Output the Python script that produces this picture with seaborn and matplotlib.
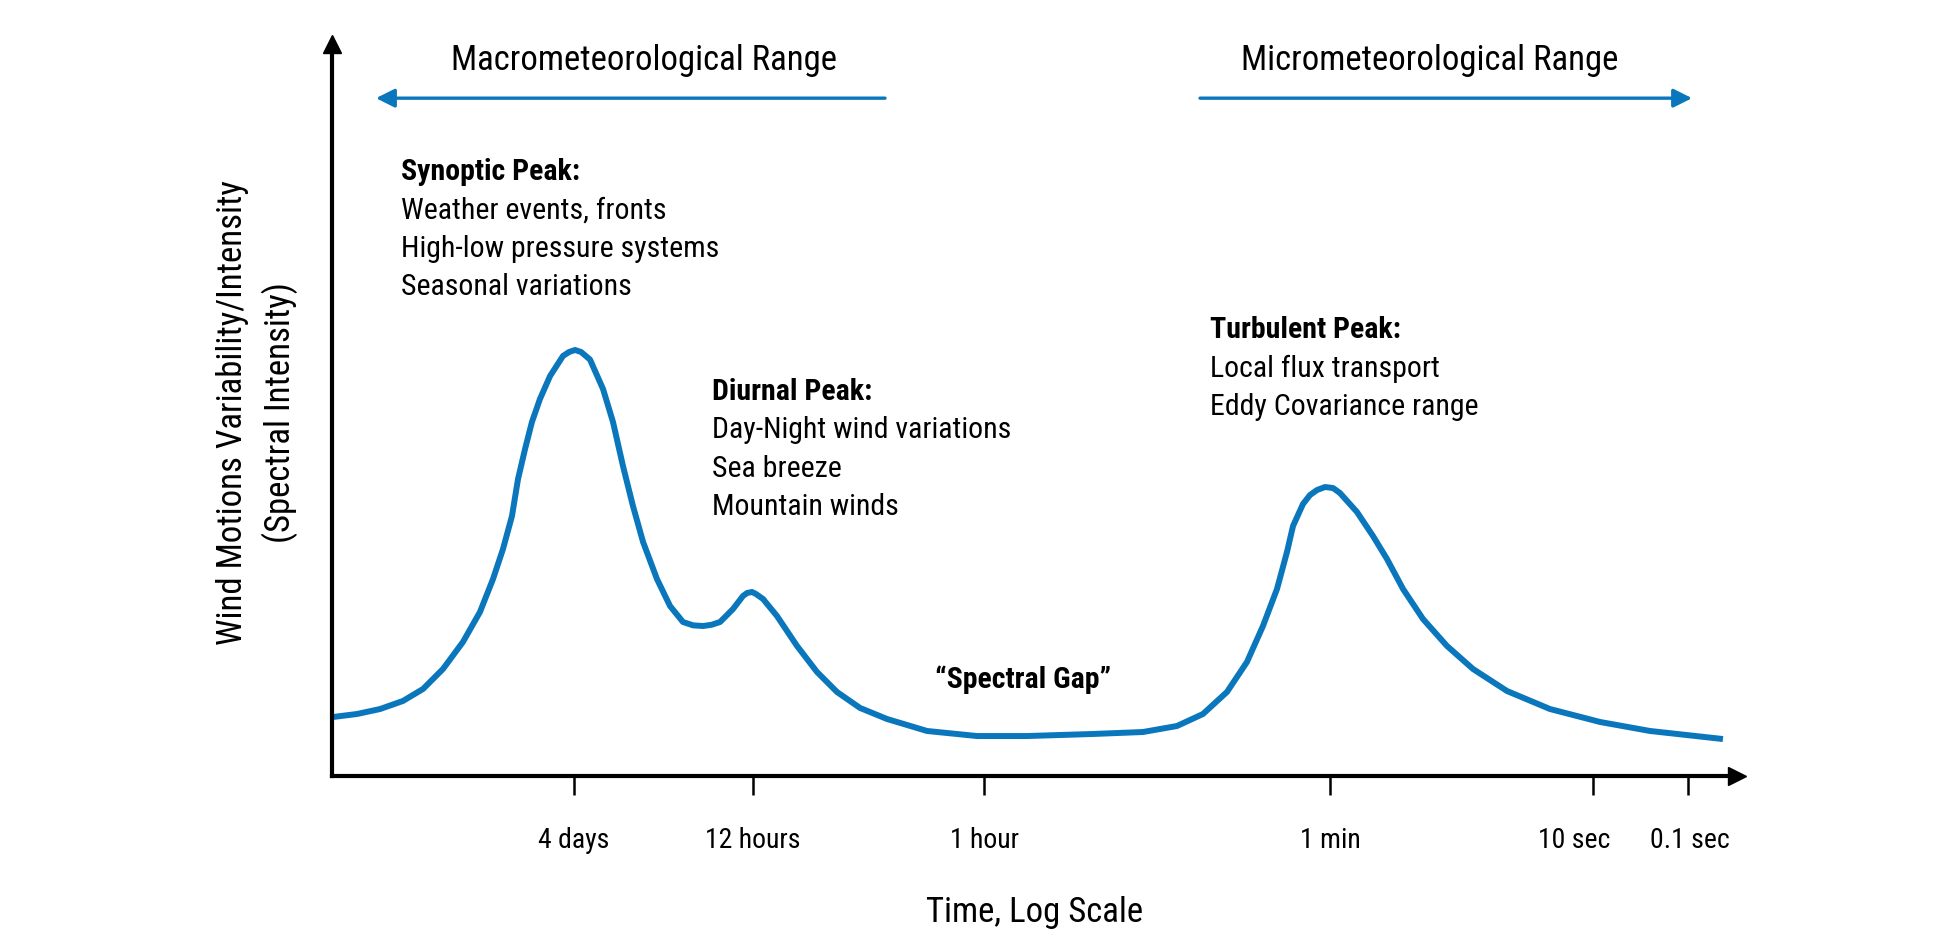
import matplotlib
matplotlib.use("Agg")
import matplotlib.pyplot as plt
from matplotlib import font_manager
import seaborn as sns

sns.set_theme(style='white')

# pick a narrow face if one is installed
installed = {f.name for f in font_manager.fontManager.ttflist}
narrow = [n for n in ['Roboto Condensed', 'Liberation Sans Narrow', 'Open Sans Condensed', 'Arial Narrow']
          if n in installed]
if narrow:
    plt.rcParams['font.family'] = [narrow[0], 'DejaVu Sans']
    fs = 1.0
else:
    plt.rcParams['font.family'] = ['Roboto', 'DejaVu Sans']
    fs = 0.86
for k in ['text.color', 'axes.labelcolor', 'xtick.color', 'ytick.color']:
    plt.rcParams[k] = 'black'

# curve (position along time axis 0-100, intensity 0-100)
pos = [0.07, 1.78, 3.42, 5.05, 6.48, 7.90, 9.32, 10.53, 11.46, 12.17, 12.81, 13.24, 13.74, 14.23,
       14.80, 15.52, 16.44, 16.87, 17.30, 17.73, 18.15, 18.36, 19.29, 20.00, 20.71, 21.42, 22.14,
       23.13, 24.06, 24.98, 25.70, 26.41, 27.02, 27.62, 28.54, 29.25, 29.54, 29.89, 30.18, 30.68,
       31.67, 33.10, 34.52, 35.94, 37.58, 39.50, 42.35, 45.91, 49.47, 54.16, 57.72, 60.14, 61.99,
       63.70, 65.12, 66.26, 67.26, 67.97, 68.40, 69.11, 69.61, 70.11, 70.68, 71.25, 71.74, 72.95,
       74.09, 75.09, 76.23, 77.65, 79.36, 81.21, 83.63, 86.69, 90.25, 93.81, 99.00]
intensity = [8.06, 8.47, 9.15, 10.25, 11.89, 14.62, 18.31, 22.40, 26.91, 31.01, 35.52, 40.57, 44.67, 48.36,
             51.50, 54.64, 57.38, 57.92, 58.20, 57.92, 57.24, 56.90, 52.87, 48.36, 42.35, 36.89, 31.97,
             26.91, 23.22, 21.04, 20.58, 20.49, 20.66, 21.04, 22.81, 24.59, 25.00, 25.14, 24.86, 24.18,
             21.86, 17.76, 14.21, 11.48, 9.30, 7.79, 6.15, 5.46, 5.46, 5.74, 6.01, 6.83, 8.47,
             11.48, 15.57, 20.49, 25.55, 30.60, 34.15, 37.16, 38.39, 39.07, 39.48, 39.34, 38.66, 36.07,
             32.79, 29.64, 25.55, 21.45, 17.76, 14.62, 11.61, 9.15, 7.38, 6.15, 5.05]

tick_pos = [17.22, 29.96, 46.41, 71.03, 89.75, 96.51]
label_pos = [17.22, 29.96, 46.41, 71.03, 88.4, 96.65]
tick_labels = ['4 days', '12 hours', '1 hour', '1 min', '10 sec', '0.1 sec']

synoptic_lines = ['Synoptic Peak:', 'Weather events, fronts', 'High-low pressure systems', 'Seasonal variations']
diurnal_lines = ['Diurnal Peak:', 'Day-Night wind variations', 'Sea breeze', 'Mountain winds']
turbulent_lines = ['Turbulent Peak:', 'Local flux transport', 'Eddy Covariance range']

blue = '#0a77bd'

fig = plt.figure(figsize=(19.44, 9.37), dpi=100)
ax = fig.add_axes([332/1944, 1 - 777/937, (1737 - 332)/1944, (777 - 45)/937])

sns.lineplot(x=pos, y=intensity, ax=ax, color=blue, lw=4.3, solid_joinstyle='round', solid_capstyle='butt')

ax.set_xlim(0, 100)
ax.set_ylim(0, 100)
for s in ['top', 'right']:
    ax.spines[s].set_visible(False)
for s in ['left', 'bottom']:
    ax.spines[s].set_linewidth(3)
    ax.spines[s].set_color('black')
ax.plot(1, 0, '>', color='black', ms=13, transform=ax.transAxes, clip_on=False)
ax.plot(0, 1, '^', color='black', ms=13, transform=ax.transAxes, clip_on=False)

ax.set_yticks([])
# tick marks on the major ticks, the labels sit on minor ticks (last two are offset in the original)
ax.xaxis.remove_overlapping_locs = False
ax.set_xticks(tick_pos)
ax.set_xticklabels([''] * len(tick_pos))
ax.set_xticks(label_pos, minor=True)
ax.set_xticklabels(tick_labels, minor=True, fontsize=20*fs)
ax.tick_params(axis='x', which='major', direction='out', length=14, width=1.8, color='black', bottom=True)
ax.tick_params(axis='x', which='minor', length=0, pad=36, bottom=True)
ax.set_xlabel('Time, Log Scale', fontsize=25*fs, labelpad=30)

fig.text(257/1944, 1 - 413/937, 'Wind Motions Variability/Intensity\n(Spectral Intensity)',
         rotation=90, ha='center', va='center', multialignment='center', fontsize=25*fs, linespacing=1.45/fs)

# range arrows at the top
ax.annotate('', xy=(3.13, 92.6), xytext=(39.36, 92.6), annotation_clip=False,
            arrowprops=dict(arrowstyle='-|>', color=blue, lw=2.4, mutation_scale=28, shrinkA=0, shrinkB=0))
ax.annotate('', xy=(96.8, 92.6), xytext=(61.78, 92.6), annotation_clip=False,
            arrowprops=dict(arrowstyle='-|>', color=blue, lw=2.4, mutation_scale=28, shrinkA=0, shrinkB=0))
ax.text(22.2, 97.95, 'Macrometeorological Range', ha='center', va='center', fontsize=25*fs, clip_on=False)
ax.text(78.1, 97.95, 'Micrometeorological Range', ha='center', va='center', fontsize=25*fs, clip_on=False)

# peak notes
def note(x, y0, lines, step=5.23):
    for i, line in enumerate(lines):
        ax.text(x, y0 - i*step, line, ha='left', va='center', fontsize=21.5*fs,
                fontweight='bold' if i == 0 else 'normal')

note(4.91, 82.65, synoptic_lines)
note(27.05, 52.6, diurnal_lines)
note(62.49, 61.0, turbulent_lines)
ax.text(49.18, 13.25, '\u201cSpectral Gap\u201d', ha='center', va='center', fontsize=21.5*fs, fontweight='bold')

plt.savefig('out.png', dpi=100)
